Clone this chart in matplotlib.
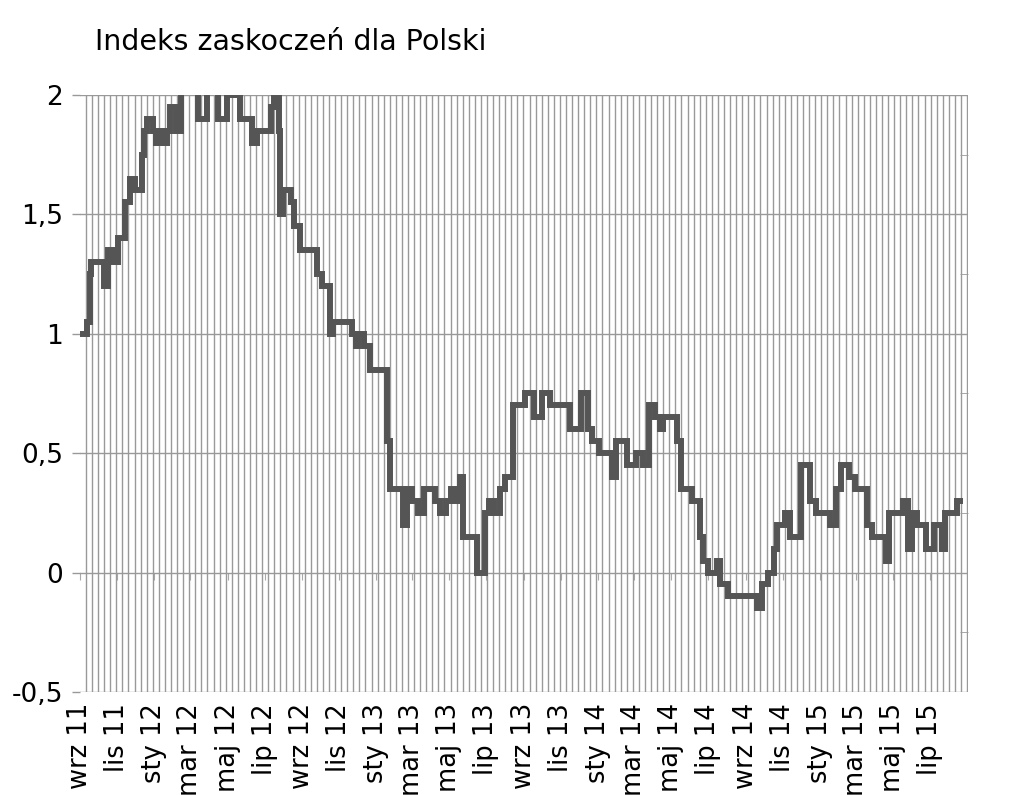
import numpy as np
import matplotlib
matplotlib.use("Agg")
import matplotlib.pyplot as plt
import matplotlib.dates as mdates
from matplotlib.ticker import FixedLocator, MultipleLocator

# dates where the index changes, and the value from that date on
change_dates = [
    "2011-09-01", "2011-09-12", "2011-09-17", "2011-09-20", "2011-10-10", "2011-10-18",
    "2011-10-25", "2011-11-02", "2011-11-14", "2011-11-23", "2011-11-30", "2011-12-13",
    "2011-12-16", "2011-12-20", "2011-12-30", "2012-01-04", "2012-01-12", "2012-01-17",
    "2012-01-23", "2012-01-28", "2012-02-07", "2012-02-14", "2012-03-13", "2012-03-28",
    "2012-04-15", "2012-04-30", "2012-05-21", "2012-06-10", "2012-06-19", "2012-07-12",
    "2012-07-17", "2012-07-24", "2012-07-27", "2012-07-31", "2012-08-14", "2012-08-18",
    "2012-08-28", "2012-09-26", "2012-10-03", "2012-10-16", "2012-10-21", "2012-11-21",
    "2012-11-28", "2012-12-01", "2012-12-12", "2012-12-21", "2013-01-18", "2013-01-24",
    "2013-02-13", "2013-02-20", "2013-03-01", "2013-03-10", "2013-03-20", "2013-04-07",
    "2013-04-15", "2013-04-25", "2013-05-03", "2013-05-10", "2013-05-18", "2013-05-23",
    "2013-06-15", "2013-06-28", "2013-07-06", "2013-07-14", "2013-07-23", "2013-07-31",
    "2013-08-13", "2013-09-02", "2013-09-18", "2013-09-30", "2013-10-13", "2013-11-15",
    "2013-12-04", "2013-12-16", "2013-12-21", "2014-01-03", "2014-01-23", "2014-01-31",
    "2014-02-17", "2014-03-05", "2014-03-15", "2014-03-26", "2014-04-04", "2014-04-13",
    "2014-04-18", "2014-05-10", "2014-05-18", "2014-06-05", "2014-06-17", "2014-06-22",
    "2014-06-30", "2014-07-16", "2014-07-21", "2014-08-03", "2014-09-20", "2014-09-28",
    "2014-10-07", "2014-10-18", "2014-10-23", "2014-11-04", "2014-11-13", "2014-11-30",
    "2014-12-16", "2014-12-25", "2015-01-17", "2015-01-28", "2015-02-05", "2015-02-18",
    "2015-02-27", "2015-03-20", "2015-03-27", "2015-04-20", "2015-04-25", "2015-05-17",
    "2015-05-25", "2015-06-02", "2015-06-09", "2015-06-25", "2015-07-08", "2015-07-20",
    "2015-07-26", "2015-08-15", "2015-08-19",
]
change_values = [
    1.00, 1.05, 1.25, 1.30, 1.20, 1.35,
    1.30, 1.40, 1.55, 1.65, 1.60, 1.75,
    1.85, 1.90, 1.85, 1.80, 1.85, 1.80,
    1.85, 1.95, 1.85, 2.10, 1.90, 2.10,
    1.90, 2.00, 1.90, 1.80, 1.85, 1.95,
    2.10, 1.85, 1.50, 1.60, 1.55, 1.45,
    1.35, 1.25, 1.20, 1.00, 1.05, 1.00,
    0.95, 1.00, 0.95, 0.85, 0.55, 0.35,
    0.20, 0.35, 0.30, 0.25, 0.35, 0.30,
    0.25, 0.30, 0.35, 0.30, 0.40, 0.15,
    0.00, 0.25, 0.30, 0.25, 0.35, 0.40,
    0.70, 0.75, 0.65, 0.75, 0.70, 0.60,
    0.75, 0.60, 0.55, 0.50, 0.40, 0.55,
    0.45, 0.50, 0.45, 0.70, 0.65, 0.60,
    0.65, 0.55, 0.35, 0.30, 0.15, 0.05,
    0.00, 0.05, -0.05, -0.10, -0.15, -0.05,
    0.00, 0.10, 0.20, 0.25, 0.15, 0.45,
    0.30, 0.25, 0.20, 0.35, 0.45, 0.40,
    0.35, 0.20, 0.15, 0.05, 0.25, 0.30,
    0.10, 0.25, 0.20, 0.10, 0.20, 0.10,
    0.25, 0.30, 0.30,
]

month_ticks = [
    "2011-09-01", "2011-11-01", "2012-01-01", "2012-03-01", "2012-05-01", "2012-07-01",
    "2012-09-01", "2012-11-01", "2013-01-01", "2013-03-01", "2013-05-01", "2013-07-01",
    "2013-09-01", "2013-11-01", "2014-01-01", "2014-03-01", "2014-05-01", "2014-07-01",
    "2014-09-01", "2014-11-01", "2015-01-01", "2015-03-01", "2015-05-01", "2015-07-01",
]
month_labels = [
    "wrz 11", "lis 11", "sty 12", "mar 12", "maj 12", "lip 12",
    "wrz 12", "lis 12", "sty 13", "mar 13", "maj 13", "lip 13",
    "wrz 13", "lis 13", "sty 14", "mar 14", "maj 14", "lip 14",
    "wrz 14", "lis 14", "sty 15", "mar 15", "maj 15", "lip 15",
]
y_ticks = [-0.5, 0, 0.5, 1, 1.5, 2]
y_labels = ["-0,5", "0", "0,5", "1", "1,5", "2"]

x = np.array(change_dates, dtype="datetime64[D]")
y = np.array(change_values)

fig = plt.figure(figsize=(10.24, 7.95), dpi=100)
ax = fig.add_axes([0.078, 0.1296, 0.867, 0.751])

ax.plot(x, y, drawstyle="steps-post", color="#555555", lw=4.3,
        solid_joinstyle="miter", zorder=3)

x0 = np.datetime64("2011-09-01")
x1 = np.datetime64("2015-09-01")
ax.set_xlim(x0, x1)
ax.set_ylim(-0.5, 2)

# vertical grid every 10 days
grid_days = np.arange(x0, x1, np.timedelta64(10, "D"))
ax.xaxis.set_minor_locator(FixedLocator(mdates.date2num(grid_days)))
ax.set_xticks(np.array(month_ticks, dtype="datetime64[D]"))
ax.set_xticklabels(month_labels, rotation=90, fontsize=18.5)
ax.grid(axis="x", which="minor", color="#999999", lw=1.0)
ax.tick_params(axis="x", which="both", length=0, pad=8)

ax.set_yticks(y_ticks)
ax.set_yticklabels(y_labels, fontsize=19)
ax.grid(axis="y", which="major", color="#999999", lw=1.0)
ax.yaxis.set_minor_locator(MultipleLocator(0.25))
ax.tick_params(axis="y", which="major", length=6, width=1.0, color="#999999", pad=6)
ax.tick_params(axis="y", which="minor", left=False, right=True, direction="in",
               length=6, color="#999999")

# small month tick marks on the zero line
sec = ax.secondary_xaxis(0.2)
sec.set_xticks(np.array(month_ticks, dtype="datetime64[D]"))
sec.tick_params(axis="x", length=5, color="#aaaaaa", labelbottom=False)
sec.spines["bottom"].set_visible(False)

for s in ax.spines.values():
    s.set_visible(False)

fig.text(0.093, 0.947, "Indeks zaskoczeń dla Polski", fontsize=20.5, va="center", ha="left")

fig.savefig("out.png", dpi=100)
